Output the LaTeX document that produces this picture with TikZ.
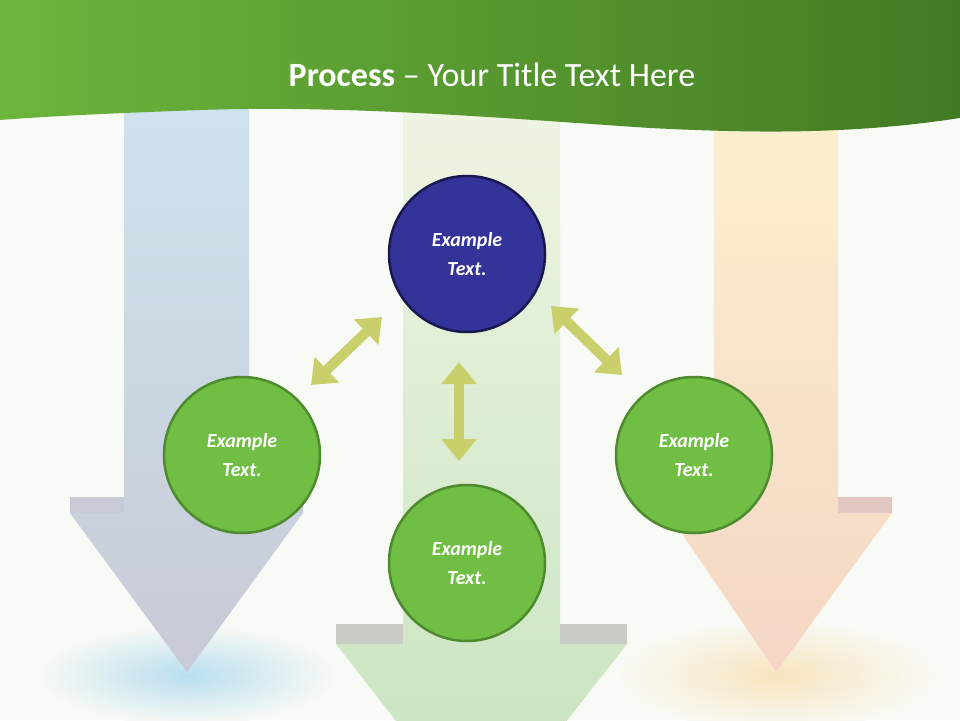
\documentclass[tikz,border=0pt]{standalone}
\usetikzlibrary{arrows.meta}
\usepackage{fontspec}
\setmainfont{Carlito}
\definecolor{bg}{HTML}{F8FAF5}
\definecolor{olive}{HTML}{C9CF6A}
\definecolor{bandb}{RGB}{200,202,214}
\definecolor{bandg}{RGB}{200,204,196}
\definecolor{bando}{RGB}{225,200,195}
\tikzset{
  gcirc/.style={circle,minimum size=156pt,inner sep=0pt,fill={rgb,255:red,112;green,190;blue,68},draw={rgb,255:red,78;green,138;blue,46},line width=2.5pt,text=white,font=\bfseries\itshape\fontsize{20}{29}\selectfont,align=center},
  bcirc/.style={gcirc,fill={rgb,255:red,51;green,51;blue,153},draw={rgb,255:red,25;green,25;blue,80}},
  dbl/.style={draw=olive,line width=10pt,{Triangle[width=34pt,length=22pt]}-{Triangle[width=34pt,length=22pt]}}
}
\begin{document}
\begin{tikzpicture}[x=1pt,y=-1pt]
\useasboundingbox (0,0) rectangle (960,720);
\fill[bg] (0,0) rectangle (960,720);
% glows
\shade[inner color={rgb,255:red,185;green,222;blue,238},outer color=bg] (187,675) ellipse (150 and 50);
\shade[inner color={rgb,255:red,247;green,228;blue,190},outer color=bg] (776,675) ellipse (160 and 55);
% big arrows
\shade[top color={rgb,255:red,205;green,227;blue,238},bottom color={rgb,255:red,200;green,202;blue,214}]
  (124,100) -- (249,100) -- (249,497) -- (303,497) -- (303,513) -- (187,672) -- (70,513) -- (70,497) -- (124,497) -- cycle;
\shade[top color={rgb,255:red,240;green,245;blue,227},bottom color={rgb,255:red,197;green,226;blue,190}]
  (403,100) -- (560,100) -- (560,624) -- (627,624) -- (627,644) -- (481,830) -- (336,644) -- (336,624) -- (403,624) -- cycle;
\shade[top color={rgb,255:red,251;green,241;blue,207},bottom color={rgb,255:red,245;green,214;blue,196}]
  (714,100) -- (838,100) -- (838,497) -- (892,497) -- (892,513) -- (776,672) -- (668,513) -- (668,497) -- (714,497) -- cycle;
% head bands
\fill[bandb] (70,497) rectangle (124,513);
\fill[bandb] (249,497) rectangle (303,513);
\fill[bandg] (336,624) rectangle (403,644);
\fill[bandg] (560,624) rectangle (627,644);
\fill[bando] (668,497) rectangle (714,513);
\fill[bando] (838,497) rectangle (892,513);
% banner
\shade[left color={rgb,255:red,108;green,182;blue,60},right color={rgb,255:red,66;green,122;blue,34}]
  (0,0) -- (960,0) -- (960,118) .. controls (850,135) and (750,133) .. (650,128)
  .. controls (500,118) and (350,105) .. (200,110) .. controls (120,113) and (50,116) .. (0,120) -- cycle;
\node[text=white,font=\fontsize{34}{40}\selectfont] (title) at (492,75) {\textbf{Process} – Your Title Text Here};
% circles
\node[bcirc] (top) at (467,254) {Example\\Text.};
\node[gcirc] (left) at (242,455) {Example\\Text.};
\node[gcirc] (bot) at (467,563) {Example\\Text.};
\node[gcirc] (right) at (694,455) {Example\\Text.};
% double arrows
\coordinate (a1) at (311,385); \coordinate (a2) at (382,317);
\coordinate (b1) at (459,362); \coordinate (b2) at (459,461);
\coordinate (c1) at (551,306); \coordinate (c2) at (622,375);
\draw[dbl] (a1) -- (a2);
\draw[dbl] (b1) -- (b2);
\draw[dbl] (c1) -- (c2);
\end{tikzpicture}
\end{document}
